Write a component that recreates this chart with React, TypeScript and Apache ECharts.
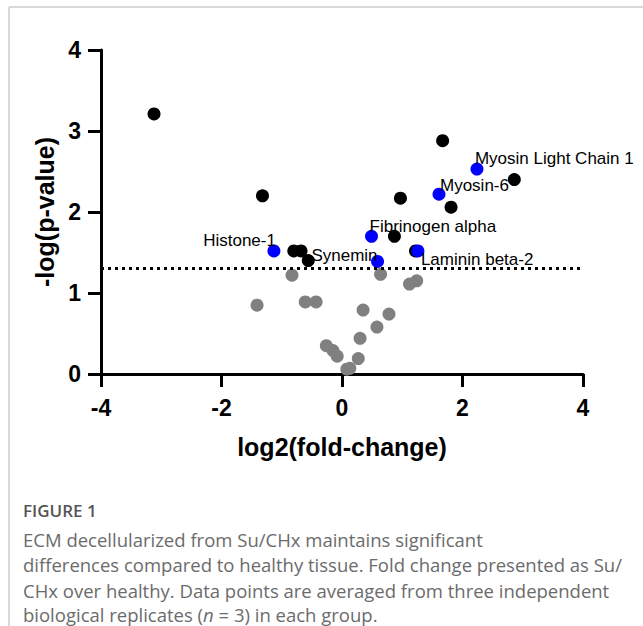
import React, { useEffect, useRef } from "react";
import * as echarts from "echarts";

// log2(fold-change), -log(p-value)
const grayPoints: number[][] = [
  [-0.83, 1.22], [-1.41, 0.85], [-0.61, 0.89], [-0.43, 0.89], [-0.26, 0.35],
  [-0.15, 0.29], [-0.08, 0.22], [0.08, 0.06], [0.13, 0.07], [0.27, 0.19],
  [0.30, 0.44], [0.58, 0.58], [0.35, 0.79], [0.78, 0.74], [0.64, 1.23],
  [1.12, 1.11], [1.24, 1.15],
];
const blackPoints: number[][] = [
  [-3.12, 3.21], [-1.32, 2.2], [1.67, 2.88], [2.86, 2.4], [0.97, 2.17],
  [1.81, 2.06], [0.87, 1.7], [1.22, 1.52], [-0.8, 1.52], [-0.68, 1.52],
  [-0.56, 1.4],
];
const blueNames: string[] = [
  "Myosin Light Chain 1", "Myosin-6", "Fibrinogen alpha", "Laminin beta-2", "Synemin", "Histone-1",
];
const blueX: number[] = [2.24, 1.61, 0.49, 1.26, 0.59, -1.13];
const blueY: number[] = [2.53, 2.22, 1.7, 1.52, 1.39, 1.52];
const threshold = 1.3;
const xTicks = [-4, 4, 2];
const yTicks = [0, 4, 1];

const captionTitle = "FIGURE 1";
const captionLines: string[] = [
  "ECM decellularized from Su/CHx maintains significant",
  "differences compared to healthy tissue. Fold change presented as Su/",
  "CHx over healthy. Data points are averaged from three independent",
  "biological replicates ({i|n} = 3) in each group.",
];

// label placement styles (offset from point centre, alignment)
const labelStyle: Record<string, { dx: number; dy: number; align: string }> = {
  "Myosin Light Chain 1": { dx: -2, dy: -11, align: "left" },
  "Myosin-6": { dx: 1, dy: -9, align: "left" },
  "Fibrinogen alpha": { dx: -2, dy: -10, align: "left" },
  "Laminin beta-2": { dx: 3, dy: 9, align: "left" },
  Synemin: { dx: 0, dy: -6, align: "right" },
  "Histone-1": { dx: 2, dy: -10, align: "right" },
};

const FONT = "'Liberation Sans', Arial, Helvetica, sans-serif";
const CAP_FONT = "'Open Sans', sans-serif";
const SYM = 13;

export default function App() {
  const ref = useRef<HTMLDivElement>(null);
  useEffect(() => {
    if (!ref.current) return;
    const chart = echarts.init(ref.current, undefined, { renderer: "svg" });
    const half = SYM / 2;
    const blueData = blueNames.map((n, i) => {
      const s = labelStyle[n];
      return {
        name: n,
        value: [blueX[i], blueY[i]],
        label: {
          show: true,
          formatter: n,
          position: [half + s.dx, half + s.dy],
          align: s.align,
          verticalAlign: "middle",
          color: "#000",
          fontSize: 17,
          fontFamily: FONT,
        },
      };
    });
    const axisCommon = {
      axisLine: { show: true, onZero: false, lineStyle: { color: "#000", width: 3 } },
      axisTick: { show: true, inside: false, length: 13, lineStyle: { color: "#000", width: 3 } },
      splitLine: { show: false },
      axisLabel: { color: "#000", fontWeight: "bold", fontSize: 23, fontFamily: FONT },
      nameTextStyle: { color: "#000", fontWeight: "bold", fontSize: 25, fontFamily: FONT },
      nameLocation: "middle",
    };
    const captionY = [539, 564.5, 590, 614];
    const captionGraphics: any[] = [
      { type: "line", shape: { x1: 9, y1: 7, x2: 643, y2: 7 }, style: { stroke: "#cccccc", lineWidth: 1.5 } },
      { type: "line", shape: { x1: 9, y1: 7, x2: 9, y2: 626 }, style: { stroke: "#cccccc", lineWidth: 1.5 } },
      {
        type: "text", x: 23, y: 510,
        style: { text: captionTitle, fill: "#555555", font: `600 17px ${CAP_FONT}`, verticalAlign: "middle" },
      },
      ...captionLines.map((t, i) => ({
        type: "text", x: 23, y: captionY[i],
        style: {
          text: t, fill: "#6b6b6b", font: `18.5px ${CAP_FONT}`, verticalAlign: "middle", lineHeight: 20,
          rich: { i: { fontStyle: "italic", fontSize: 18.5, fontFamily: CAP_FONT, fill: "#6b6b6b", lineHeight: 20 } },
        },
      })),
    ];
    chart.setOption({
      animation: false,
      backgroundColor: "#fff",
      grid: { left: 101, right: 60, top: 50, bottom: 252, containLabel: false },
      xAxis: {
        type: "value", min: xTicks[0], max: xTicks[1], interval: xTicks[2],
        name: "log2(fold-change)", nameGap: 60,
        ...axisCommon,
        axisLabel: { ...axisCommon.axisLabel, margin: 22 },
      },
      yAxis: {
        type: "value", min: yTicks[0], max: yTicks[1], interval: yTicks[2],
        name: "-log(p-value)", nameGap: 42,
        ...axisCommon,
        axisLabel: { ...axisCommon.axisLabel, margin: 20 },
      },
      series: [
        {
          type: "scatter", data: grayPoints, symbolSize: SYM,
          itemStyle: { color: "#808080", opacity: 1 },
          markLine: {
            silent: true, symbol: "none",
            lineStyle: { color: "#000", width: 3, type: [3, 4] },
            label: { show: false },
            data: [[{ coord: [xTicks[0], threshold] }, { coord: [xTicks[1], threshold] }]],
          },
        },
        { type: "scatter", data: blackPoints, symbolSize: SYM, itemStyle: { color: "#000", opacity: 1 } },
        { type: "scatter", data: blueData, symbolSize: SYM, itemStyle: { color: "#0000ff", opacity: 1 } },
      ],
      graphic: captionGraphics,
    });
    return () => chart.dispose();
  }, []);
  return <div ref={ref} style={{ position: "absolute", left: 0, top: 0, width: 643, height: 626 }} />;
}
